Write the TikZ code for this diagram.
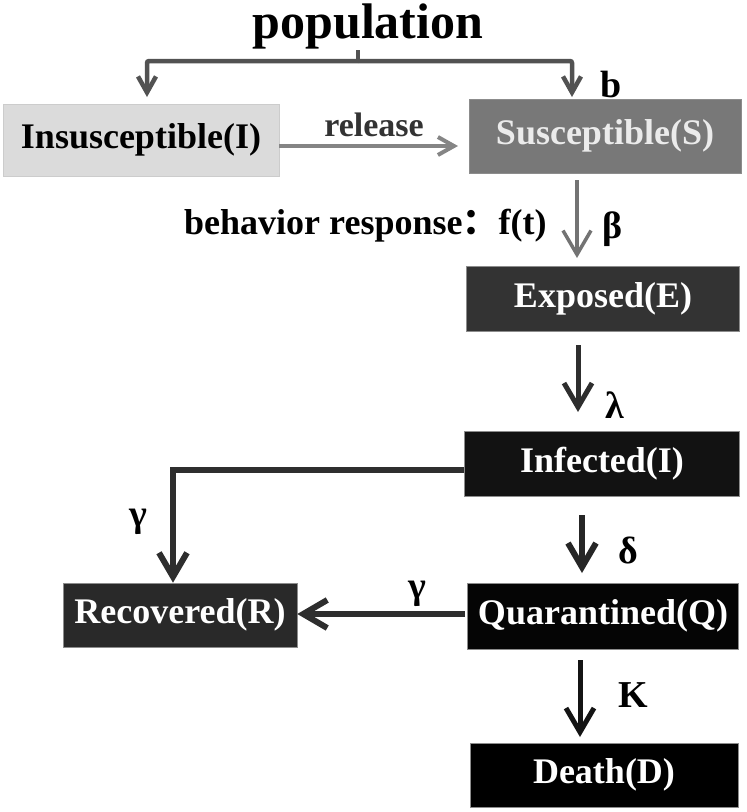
\documentclass[tikz,border=0pt]{standalone}
\usepackage{fontspec}
\setmainfont{Liberation Serif}
\newfontfamily\cjk{Noto Sans CJK SC}
\usetikzlibrary{arrows.meta}
\begin{document}
\begin{tikzpicture}[x=1pt,y=-1pt,
  box/.style={draw=black!45,line width=0.6pt,inner sep=0pt,font=\fontsize{36}{38}\selectfont\bfseries},
  lbl/.style={font=\fontsize{38}{40}\selectfont\bfseries,inner sep=0pt},
  arr/.style={-{Straight Barb[length=24pt,width=28pt,line width=#1]},line width=#1},
  sarr/.style={-{Straight Barb[length=16pt,width=18pt,line width=#1]},line width=#1},
]
\useasboundingbox (0,0) rectangle (747,812);
% boxes
\node[box,draw=black!20,fill=black!14,minimum width=276pt,minimum height=72pt,text=black] (ins) at (141,140) {Insusceptible(I)};
\node[box,fill=black!53,minimum width=272pt,minimum height=74pt,text=white!92!black] (sus) at (605,136) {Susceptible(S)};
\node[box,fill=black!80,minimum width=273pt,minimum height=65pt,text=white] (exp) at (603,299) {Exposed(E)};
\node[box,fill=black!93,minimum width=275pt,minimum height=65pt,text=white] (inf) at (602,464) {Infected(I)};
\node[box,fill=black!84,minimum width=234pt,minimum height=64pt,text=white] (rec) at (180,615) {Recovered(R)};
\node[box,fill=black!98,minimum width=271pt,minimum height=66pt,text=white] (qua) at (603,616) {Quarantined(Q)};
\node[box,fill=black,minimum width=268pt,minimum height=64pt,text=white] (dea) at (604,775) {Death(D)};
% population
\node[font=\fontsize{50}{54}\selectfont\bfseries,inner sep=0pt,anchor=base] (pop) at (368,38) {population};
\coordinate (bt) at (358,50);
\coordinate (bm) at (358,61);
\coordinate (bl) at (147,61);
\coordinate (br) at (572,61);
\coordinate (tl) at (147,97);
\coordinate (tr) at (572,97);
\draw[line width=4.5pt,black!68] (bt) -- (bm);
\draw[sarr=4.5pt,black!68,rounded corners=2pt] (bm) -- (bl) -- (tl);
\draw[sarr=4.5pt,black!68,rounded corners=2pt] (bm) -- (br) -- (tr);
\node[lbl] (lb) at (611,84) {b};
% release
\coordinate (r1) at (458,146);
\draw[sarr=4pt,black!48] (ins.east |- r1) -- (r1);
\node[font=\fontsize{34}{36}\selectfont\bfseries,text=black!80,inner sep=0pt,anchor=base] (rel) at (374,136) {release};
% behavior
\node[font=\fontsize{36}{38}\selectfont\bfseries,inner sep=0pt,anchor=base west] (beh) at (184,234) {behavior response{\cjk ：}f(t)};
\coordinate (s0) at (577,180);
\coordinate (s1) at (577,258);
\draw[arr=3.5pt,black!55] (s0) -- (s1);
\node[lbl] (lbeta) at (613,229) {β};
% E -> I
\coordinate (e0) at (578,345);
\coordinate (e1) at (578,412);
\draw[arr=5pt,black!82] (e0) -- (e1);
\node[lbl] (llam) at (615,405) {λ};
% I -> R
\coordinate (c1) at (173,470);
\draw[arr=6pt,black!82] (inf.west |- c1) -- (c1) -- (rec.north -| c1);
\node[lbl] (lg1) at (138,522) {γ};
% delta
\coordinate (d0) at (582,515);
\coordinate (d1) at (582,573);
\draw[arr=6pt,black!85] (d0) -- (d1);
\node[lbl] (ldel) at (628,550) {δ};
% Q -> R
\coordinate (q0) at (465,614);
\draw[arr=6pt,black!82] (q0) -- (rec.east |- q0);
\node[lbl] (lg2) at (417,594) {γ};
% K
\coordinate (k0) at (580,660);
\coordinate (k1) at (580,737);
\draw[arr=5pt,black!92] (k0) -- (k1);
\node[lbl] (lk) at (633,695) {K};
\end{tikzpicture}
\end{document}
